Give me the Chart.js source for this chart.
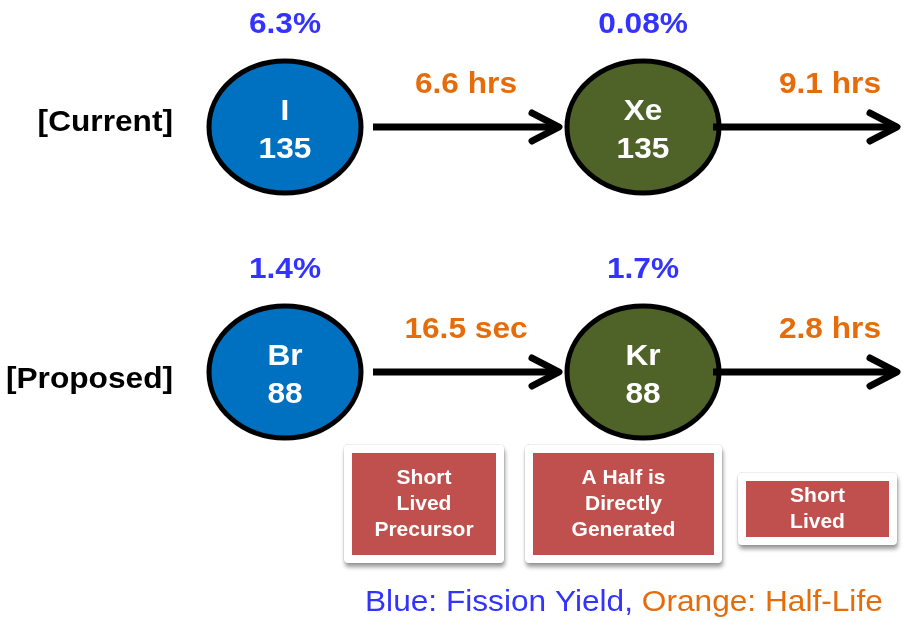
<!DOCTYPE html>
<html>
<head>
<meta charset="utf-8">
<script src="https://cdn.jsdelivr.net/npm/chart.js@4.4.1/dist/chart.umd.min.js"></script>
<style>
  html, body { margin: 0; padding: 0; background: #fff; }
</style>
</head>
<body>
<canvas id="decay_chain" width="903" height="620"></canvas>
<script>
// ---- diagram content ----
var rowLabels = ['[Current]', '[Proposed]'];
var parentSymbols = ['I', 'Br'];
var parentMasses = ['135', '88'];
var daughterSymbols = ['Xe', 'Kr'];
var daughterMasses = ['135', '88'];
var parentYields = ['6.3%', '1.4%'];
var daughterYields = ['0.08%', '1.7%'];
var parentHalfLives = ['6.6 hrs', '16.5 sec'];
var daughterHalfLives = ['9.1 hrs', '2.8 hrs'];
var noteLabels = [
    ['Short', 'Lived', 'Precursor'],
    ['A Half is', 'Directly', 'Generated'],
    ['Short', 'Lived']
];
var legendParts = ['Blue: Fission Yield, ', 'Orange: Half-Life'];

// ---- layout (axis units == page pixels) ----
var layout = {
    rowY: [127, 372],
    colX: [285, 643],
    rx: 76,
    ry: 66,
    arrowGap: 12,
    arrowEndX: 897,
    halfLifeX: [466, 830],
    halfLifeDy: -42,
    yieldDy: -102,
    rowLabelRight: 173,
    rowLabelY: [123, 380],
    notes: [
        { x0: 352, x1: 496, y0: 453, y1: 555 },
        { x0: 533, x1: 714, y0: 453, y1: 555 },
        { x0: 746, x1: 889, y0: 481, y1: 537 }
    ],
    legendX: 365,
    legendY: 603
};

var colors = {
    parent: '#0070c0',
    daughter: '#4f6228',
    yield: '#3333ff',
    halfLife: '#e46c0a',
    note: '#c0504d'
};
var FONT = '"Liberation Sans", Arial, Helvetica, sans-serif';
// the source lettering is a bit wider than plain Arial
var TEXT_STRETCH = 1.055;

// nuclide centres, row by row
var nuclidePoints = [];
layout.rowY.forEach(function (y) {
    layout.colX.forEach(function (x) {
        nuclidePoints.push({ x: x, y: y });
    });
});

// arrows: parent -> daughter, daughter -> onward
function arrowData(row, which) {
    var y = layout.rowY[row];
    if (which === 0) {
        return [
            { x: layout.colX[0] + layout.rx + layout.arrowGap, y: y },
            { x: layout.colX[1] - layout.rx - layout.arrowGap + 4, y: y }
        ];
    }
    return [
        { x: layout.colX[1] + layout.rx - 6, y: y },
        { x: layout.arrowEndX, y: y }
    ];
}

function arrowDataset(row, which) {
    return {
        type: 'line',
        data: arrowData(row, which),
        showLine: true,
        borderColor: '#000',
        borderWidth: 7,
        borderCapStyle: 'butt',
        pointRadius: 0,
        pointHoverRadius: 0
    };
}

// fillText with a small horizontal stretch
function wideText(c, text, x, y) {
    c.save();
    c.translate(x, y);
    c.scale(TEXT_STRETCH, 1);
    c.fillText(text, 0, 0);
    c.restore();
}

var diagramPlugin = {
    id: 'decayDiagram',
    beforeDatasetsDraw: function (chart) {
        var c = chart.ctx;
        var xs = chart.scales.x, ys = chart.scales.y;
        var rx = xs.getPixelForValue(layout.rx) - xs.getPixelForValue(0);
        var ry = Math.abs(ys.getPixelForValue(layout.ry) - ys.getPixelForValue(0));
        var meta = chart.getDatasetMeta(0);
        c.save();
        meta.data.forEach(function (pt, i) {
            var row = Math.floor(i / 2), col = i % 2;
            c.beginPath();
            c.ellipse(pt.x, pt.y, rx, ry, 0, 0, Math.PI * 2);
            c.fillStyle = col === 0 ? colors.parent : colors.daughter;
            c.fill();
            c.lineWidth = 5;
            c.strokeStyle = '#000';
            c.stroke();

            var sym = col === 0 ? parentSymbols[row] : daughterSymbols[row];
            var mass = col === 0 ? parentMasses[row] : daughterMasses[row];
            c.fillStyle = '#fff';
            c.font = 'bold 30px ' + FONT;
            c.textAlign = 'center';
            c.textBaseline = 'middle';
            wideText(c, sym, pt.x, pt.y - 15);
            wideText(c, mass, pt.x, pt.y + 23);

            // fission yield above each nuclide
            var yl = col === 0 ? parentYields[row] : daughterYields[row];
            c.fillStyle = colors.yield;
            wideText(c, yl, pt.x, ys.getPixelForValue(layout.rowY[row] + layout.yieldDy));
        });
        c.restore();
    },
    afterDatasetsDraw: function (chart) {
        var c = chart.ctx;
        var xs = chart.scales.x, ys = chart.scales.y;
        c.save();

        // arrow heads
        for (var d = 1; d < chart.data.datasets.length; d++) {
            var pts = chart.getDatasetMeta(d).data;
            var tip = pts[pts.length - 1];
            c.beginPath();
            c.moveTo(tip.x - 27, tip.y - 14);
            c.lineTo(tip.x, tip.y);
            c.lineTo(tip.x - 27, tip.y + 14);
            c.lineWidth = 7;
            c.lineCap = 'round';
            c.lineJoin = 'round';
            c.strokeStyle = '#000';
            c.stroke();
        }

        c.textBaseline = 'middle';
        c.font = 'bold 30px ' + FONT;

        // half-lives
        c.textAlign = 'center';
        c.fillStyle = colors.halfLife;
        layout.rowY.forEach(function (y, row) {
            var ty = ys.getPixelForValue(y + layout.halfLifeDy);
            wideText(c, parentHalfLives[row], xs.getPixelForValue(layout.halfLifeX[0]), ty);
            wideText(c, daughterHalfLives[row], xs.getPixelForValue(layout.halfLifeX[1]), ty);
        });

        // row labels
        c.textAlign = 'right';
        c.fillStyle = '#000';
        rowLabels.forEach(function (lbl, row) {
            wideText(c, lbl, xs.getPixelForValue(layout.rowLabelRight), ys.getPixelForValue(layout.rowLabelY[row]));
        });

        // note boxes
        layout.notes.forEach(function (b, i) {
            var x0 = xs.getPixelForValue(b.x0), x1 = xs.getPixelForValue(b.x1);
            var y0 = ys.getPixelForValue(b.y0), y1 = ys.getPixelForValue(b.y1);
            c.save();
            c.shadowColor = 'rgba(0,0,0,0.4)';
            c.shadowBlur = 4;
            c.shadowOffsetX = 1;
            c.shadowOffsetY = 4;
            c.fillStyle = '#fff';
            c.beginPath();
            c.roundRect(x0 - 8, y0 - 8, x1 - x0 + 16, y1 - y0 + 16, 4);
            c.fill();
            c.restore();
            c.strokeStyle = 'rgba(0,0,0,0.06)';
            c.lineWidth = 1;
            c.beginPath();
            c.roundRect(x0 - 8.5, y0 - 8.5, x1 - x0 + 17, y1 - y0 + 17, 4);
            c.stroke();
            c.fillStyle = colors.note;
            c.fillRect(x0, y0, x1 - x0, y1 - y0);

            var lines = noteLabels[i];
            var cx = (x0 + x1) / 2, cy = (y0 + y1) / 2;
            c.fillStyle = '#fff';
            c.font = 'bold 21px ' + FONT;
            c.textAlign = 'center';
            lines.forEach(function (t, k) {
                c.fillText(t, cx, cy + (k - (lines.length - 1) / 2) * 26);
            });
        });

        // colour key
        c.font = '30px ' + FONT;
        c.textAlign = 'left';
        var lx = xs.getPixelForValue(layout.legendX);
        var ly = ys.getPixelForValue(layout.legendY);
        c.fillStyle = colors.yield;
        wideText(c, legendParts[0], lx, ly);
        lx += c.measureText(legendParts[0]).width * TEXT_STRETCH;
        c.fillStyle = colors.halfLife;
        wideText(c, legendParts[1], lx, ly);

        c.restore();
    }
};

var ctxDecay = document.getElementById('decay_chain').getContext('2d');

new Chart(ctxDecay, {
    type: 'scatter',
    data: {
        datasets: [
            {
                label: 'Nuclides',
                data: nuclidePoints,
                pointRadius: 0,
                pointHoverRadius: 0
            },
            arrowDataset(0, 0),
            arrowDataset(0, 1),
            arrowDataset(1, 0),
            arrowDataset(1, 1)
        ]
    },
    options: {
        responsive: false,
        animation: false,
        devicePixelRatio: 1,
        layout: { padding: 0 },
        events: [],
        scales: {
            x: { type: 'linear', min: 0, max: 903, display: false },
            y: { type: 'linear', min: 0, max: 620, reverse: true, display: false }
        },
        plugins: {
            legend: { display: false },
            tooltip: { enabled: false }
        }
    },
    plugins: [diagramPlugin]
});
</script>
</body>
</html>
